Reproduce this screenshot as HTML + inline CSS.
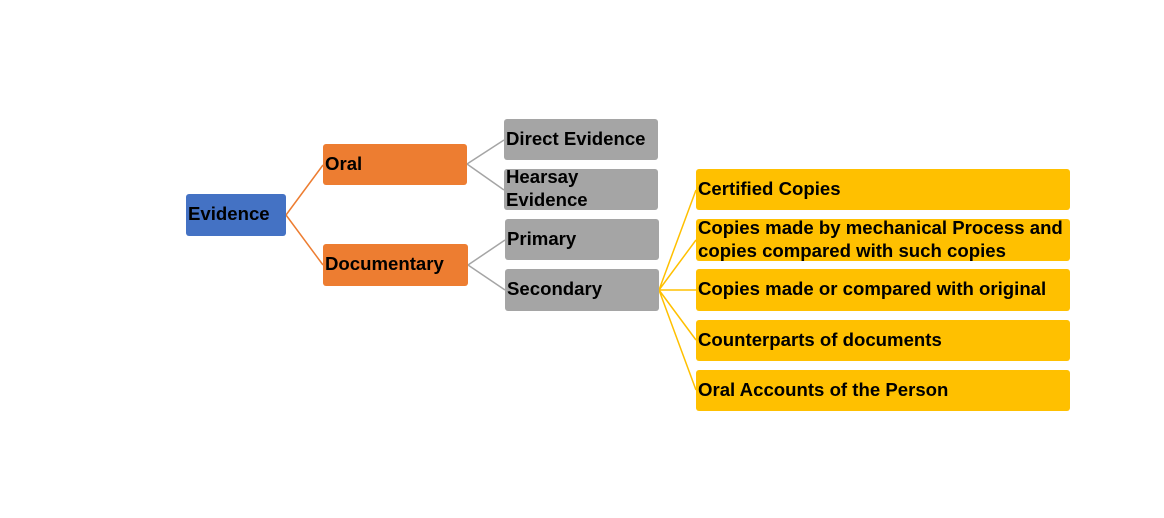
<!DOCTYPE html>
<html><head><style>
body{margin:0;width:1164px;height:518px;background:#fff;position:relative;overflow:hidden;font-family:"Liberation Sans",Arial,sans-serif;font-weight:bold;font-size:18.6px;color:#000}
.b{position:absolute;border-radius:3px;display:flex;align-items:center;padding-left:2px;padding-bottom:3px;box-sizing:border-box;line-height:23px;white-space:nowrap}
.bl{background:#4472c4}.or{background:#ed7d31}.gr{background:#a5a5a5}.ye{background:#ffc000}
svg{position:absolute;left:0;top:0}
</style></head><body>
<svg width="1164" height="518">
<g stroke="#ed7d31" stroke-width="1.5" fill="none"><path d="M286 215L323 165M286 215L323 265"/></g>
<g stroke="#a5a5a5" stroke-width="1.5" fill="none"><path d="M467 164L504 140M467 164L504 190M468 265L505 240M468 265L505 290"/></g>
<g stroke="#ffc000" stroke-width="1.5" fill="none"><path d="M659 290L696 190M659 290L696 240M659 290L696 290M659 290L696 340M659 290L696 390"/></g>
</svg>
<div class="b bl" style="left:186px;top:194px;width:100px;height:42px">Evidence</div>
<div class="b or" style="left:323px;top:144px;width:144px;height:41px">Oral</div>
<div class="b or" style="left:323px;top:244px;width:145px;height:42px">Documentary</div>
<div class="b gr" style="left:504px;top:119px;width:154px;height:41px">Direct Evidence</div>
<div class="b gr" style="left:504px;top:169px;width:154px;height:41px;white-space:normal;line-height:23px">Hearsay<br>Evidence</div>
<div class="b gr" style="left:505px;top:219px;width:154px;height:41px">Primary</div>
<div class="b gr" style="left:505px;top:269px;width:154px;height:42px">Secondary</div>
<div class="b ye" style="left:696px;top:169px;width:374px;height:41px">Certified Copies</div>
<div class="b ye" style="left:696px;top:219px;width:374px;height:42px">Copies made by mechanical Process and<br>copies compared with such copies</div>
<div class="b ye" style="left:696px;top:269px;width:374px;height:42px">Copies made or compared with original</div>
<div class="b ye" style="left:696px;top:320px;width:374px;height:41px">Counterparts of documents</div>
<div class="b ye" style="left:696px;top:370px;width:374px;height:41px">Oral Accounts of the Person</div>
</body></html>
